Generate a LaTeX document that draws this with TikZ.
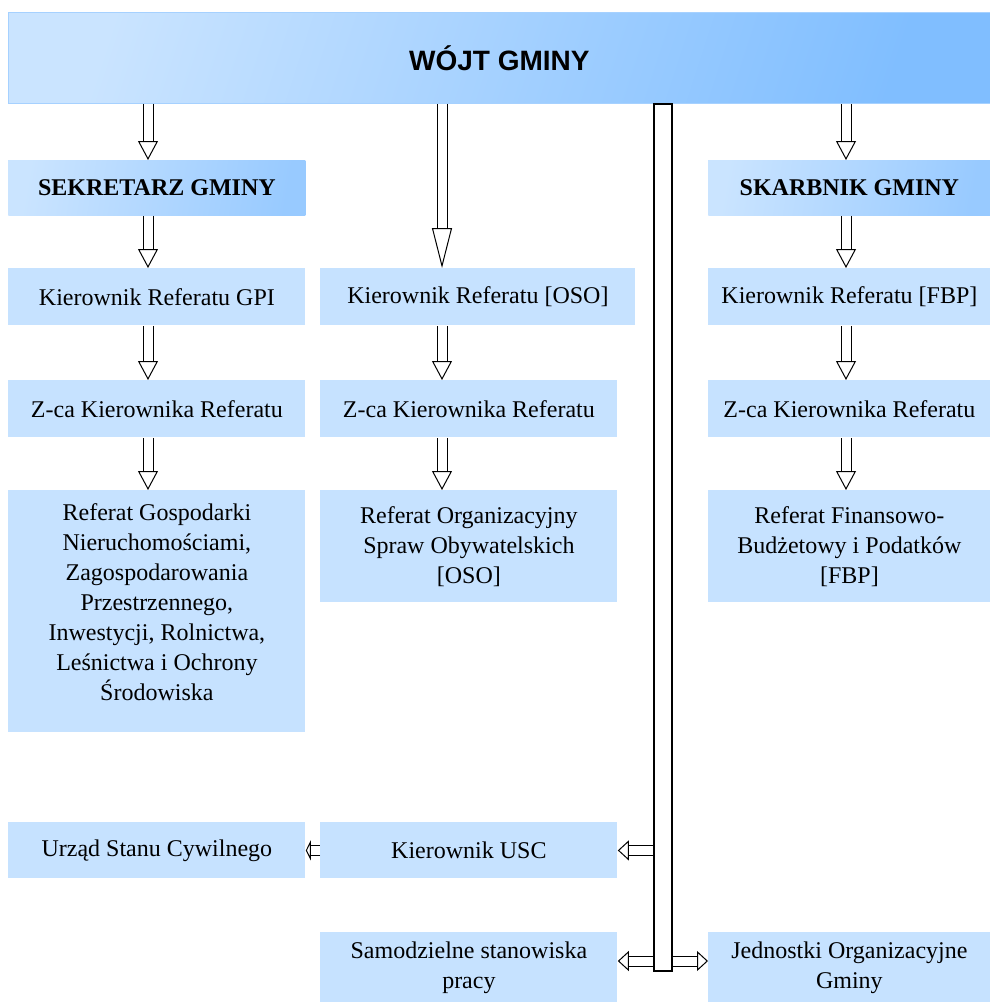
\documentclass[tikz,border=0pt]{standalone}
\usepackage{fontspec}
\setmainfont{Liberation Serif}
\newfontfamily\headfont{Liberation Sans}
\usetikzlibrary{positioning,arrows.meta,calc}
\definecolor{boxblue}{RGB}{198,226,255}
\definecolor{gradlight}{RGB}{202,228,255}
\definecolor{graddark}{RGB}{128,190,255}
\definecolor{gradmid}{RGB}{152,202,255}
\tikzset{
  blue box/.style 2 args={
    fill=boxblue,
    anchor=north west,
    align=center,
    inner sep=0pt,
    minimum width={#1*0.5pt},
    minimum height={#2*0.5pt},
    font=\fontsize{12}{15}\selectfont,
  },
  head box/.style 2 args={
    blue box={#1}{#2},
    left color=gradlight,
    right color=gradmid,
    shading angle=80,
    font=\fontsize{12}{15}\selectfont\bfseries,
  },
  hollow/.style={
    draw=black,
    line width=0.5pt,
    double=white,
    double distance=4.5pt,
    -{Triangle[open, length=#1, width=10pt]},
  },
  hollow/.default=9.5pt,
}

\begin{document}
\begin{tikzpicture}[x=0.5pt, y=-0.5pt]
    \useasboundingbox (0,0) rectangle (990,1002);

    \node [blue box={982}{91}, left color=gradlight, right color=graddark, shading angle=72,
           draw=graddark!70!white, font=\headfont\fontsize{14}{17}\selectfont\bfseries] (wojt) at (8,12) {WÓJT GMINY};

    \node [head box={297}{55}] (sekretarz) at (8,160) {SEKRETARZ GMINY};
    \node [head box={282}{55}] (skarbnik) at (708,160) {SKARBNIK GMINY};

    \node [blue box={297}{57}] (kgpi) at (8,268) {Kierownik Referatu GPI};
    \node [blue box={315}{57}] (koso) at (320,268) {Kierownik Referatu [OSO]};
    \node [blue box={282}{57}] (kfbp) at (708,268) {Kierownik Referatu [FBP]};

    \node [blue box={297}{57}] (zgpi) at (8,380) {Z-ca Kierownika Referatu};
    \node [blue box={297}{57}] (zoso) at (320,380) {Z-ca Kierownika Referatu};
    \node [blue box={282}{57}] (zfbp) at (708,380) {Z-ca Kierownika Referatu};

    \node [blue box={297}{242}] (rgpi) at (8,490) {Referat Gospodarki\\Nieruchomościami,\\Zagospodarowania\\Przestrzennego,\\Inwestycji, Rolnictwa,\\Leśnictwa i Ochrony\\Środowiska\\[-6pt]\mbox{}};
    \node [blue box={297}{112}] (roso) at (320,490) {Referat Organizacyjny\\Spraw Obywatelskich\\{}[OSO]};
    \node [blue box={282}{112}] (rfbp) at (708,490) {Referat Finansowo-\\Budżetowy i Podatków\\{}[FBP]};

    \node [blue box={297}{56}] (urzad) at (8,822) {Urząd Stanu Cywilnego};
    \node [blue box={297}{56}] (usc) at (320,822) {Kierownik USC};
    \node [blue box={297}{70}] (samodzielne) at (320,932) {Samodzielne stanowiska\\pracy};
    \node [blue box={282}{70}] (jednostki) at (708,932) {Jednostki Organizacyjne\\Gminy};

    \coordinate (col1) at (148,0);
    \coordinate (col2) at (442,0);
    \coordinate (col3) at (846,0);
    \coordinate (row1) at (0,961);

    \draw [hollow] (wojt.south -| col1) -- (sekretarz.north -| col1);
    \draw [hollow] (sekretarz.south -| col1) -- (kgpi.north -| col1);
    \draw [hollow] (kgpi.south -| col1) -- (zgpi.north -| col1);
    \draw [hollow] (zgpi.south -| col1) -- (rgpi.north -| col1);

    \draw [hollow=20pt] (wojt.south -| col2) -- (koso.north -| col2);
    \draw [hollow] (koso.south -| col2) -- (zoso.north -| col2);
    \draw [hollow] (zoso.south -| col2) -- (roso.north -| col2);

    \draw [hollow] (wojt.south -| col3) -- (skarbnik.north -| col3);
    \draw [hollow] (skarbnik.south -| col3) -- (kfbp.north -| col3);
    \draw [hollow] (kfbp.south -| col3) -- (zfbp.north -| col3);
    \draw [hollow] (zfbp.south -| col3) -- (rfbp.north -| col3);

    \node [draw, line width=0.8pt, fill=white, anchor=north west, inner sep=0pt,
           minimum width=9pt, minimum height=433.5pt] (bar) at (653,103) {};

    \draw [hollow=5.5pt] (bar.west |- usc.east) -- (usc.east);
    \draw [hollow=2.5pt] (usc.west) -- (urzad.east);
    \draw [hollow=5.5pt] (bar.west |- row1) -- (samodzielne.east |- row1);
    \draw [hollow=5.5pt] (bar.east |- row1) -- (jednostki.west |- row1);
\end{tikzpicture}
\end{document}
